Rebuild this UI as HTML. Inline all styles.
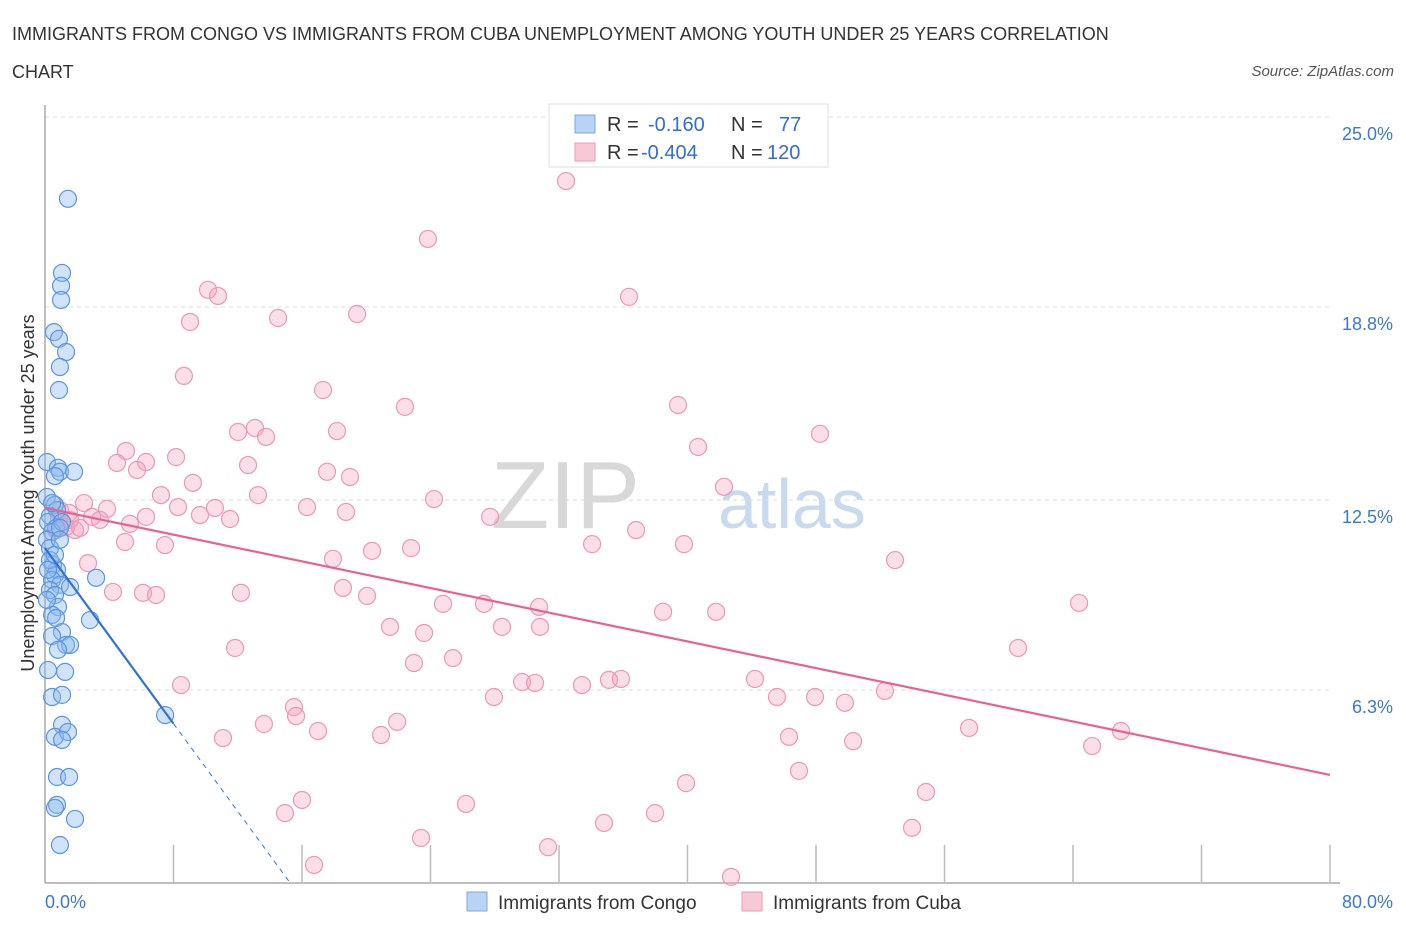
<!DOCTYPE html>
<html><head><meta charset="utf-8">
<style>
body{margin:0;background:#fff;font-family:"Liberation Sans",sans-serif;}
svg text{font-family:"Liberation Sans",sans-serif;}
</style></head>
<body>
<svg id="chart" width="1406" height="930" xmlns="http://www.w3.org/2000/svg">
<text x="12" y="40" font-size="18" fill="#333">IMMIGRANTS FROM CONGO VS IMMIGRANTS FROM CUBA UNEMPLOYMENT AMONG YOUTH UNDER 25 YEARS CORRELATION</text>
<text x="12" y="78" font-size="18" fill="#333">CHART</text>
<text x="1394" y="76" font-size="15" fill="#555" font-style="italic" text-anchor="end">Source: ZipAtlas.com</text>
<text x="640" y="528" font-size="96" fill="#d8d8d8" font-family="Liberation Serif" text-anchor="end">ZIP</text>
<text x="718" y="528" font-size="70" fill="#c8daf0">atlas</text>
<g id="grid"></g>
<g id="axes"></g>
<g id="points"></g>
<g id="lines"></g>
<text transform="translate(34,493) rotate(-90)" font-size="18" fill="#333" text-anchor="middle">Unemployment Among Youth under 25 years</text>
<g>
<rect x="549" y="104" width="279" height="63" fill="#fff" stroke="#ddd"/>
<rect x="575" y="115" width="20" height="18" fill="#b8d3f4" stroke="#7aa7e6"/>
<rect x="575" y="143" width="20" height="18" fill="#f8c8d6" stroke="#ec9ab4"/>
<text x="607" y="131" font-size="20" fill="#333">R = <tspan fill="#2f6fd6" x="648">-0.160</tspan><tspan fill="#333" x="731">N = </tspan><tspan fill="#2f6fd6" x="779">77</tspan></text>
<text x="607" y="159" font-size="20" fill="#333">R = <tspan fill="#2f6fd6" x="641">-0.404</tspan><tspan fill="#333" x="731">N = </tspan><tspan fill="#2f6fd6" x="767">120</tspan></text>
</g>
<g>
<rect x="467" y="892" width="20" height="19" fill="#b8d3f4" stroke="#7aa7e6"/>
<text x="498" y="909" font-size="19" fill="#333">Immigrants from Congo</text>
<rect x="742" y="892" width="20" height="19" fill="#f8c8d6" stroke="#ec9ab4"/>
<text x="773" y="909" font-size="19" fill="#333">Immigrants from Cuba</text>
</g>
</svg>
<script>
const yTicks=[25.0,18.8,12.5,6.3];
const yTickLabels=["25.0%","18.8%","12.5%","6.3%"];
const xTicks=[0,8,16,24,32,40,48,56,64,72,80];
const xEndLabels=["0.0%","80.0%"];
const congoX=[1.43,1.06,1.00,1.00,0.56,0.87,1.31,0.93,0.87,0.12,0.81,0.93,0.62,1.81,0.12,0.62,0.75,0.31,0.19,0.69,0.44,1.06,0.93,0.12,0.31,0.50,0.75,0.62,0.44,0.93,3.18,0.31,0.62,1.56,0.81,0.44,0.69,2.80,1.06,0.44,1.31,1.56,0.19,1.25,0.44,1.06,1.06,0.62,1.43,1.06,0.75,1.50,0.75,0.62,1.87,0.93,7.48,0.31,0.19,0.62,0.12,0.81,0.44,0.93];
const congoY=[22.33,19.91,19.49,19.03,17.98,17.76,17.33,16.84,16.09,13.74,13.55,13.42,13.28,13.42,12.60,12.34,12.17,11.98,11.78,11.59,11.46,11.78,11.59,11.20,10.93,10.38,10.22,10.05,9.89,9.73,9.96,9.56,9.40,9.66,9.01,8.75,8.65,8.58,8.19,8.06,7.77,7.77,6.95,6.89,6.07,6.14,5.16,4.77,4.93,4.67,3.46,3.46,2.55,2.45,2.09,1.24,5.48,10.54,10.22,10.71,9.24,7.61,12.40,11.20];
const cubaX=[32.44,23.84,36.36,10.15,10.77,9.03,14.51,19.43,8.65,17.31,22.41,39.41,48.25,12.02,13.07,13.76,18.18,5.04,4.48,6.29,5.73,8.16,12.64,17.56,18.99,40.66,9.21,42.27,7.22,2.43,3.86,13.26,16.31,24.22,6.29,8.28,9.65,10.58,11.52,18.74,27.71,2.93,5.29,0.87,1.56,3.42,0.68,1.87,4.98,7.47,20.36,22.79,34.06,36.80,39.78,52.92,2.68,4.23,6.10,6.91,12.20,17.93,18.55,20.05,24.78,27.33,30.76,38.48,41.78,64.38,21.48,23.60,28.45,30.82,11.83,22.97,25.40,60.58,8.47,27.95,29.70,30.51,33.43,35.11,35.86,44.20,45.57,47.94,49.80,52.29,15.50,15.63,13.63,17.00,21.92,20.92,11.08,46.32,50.31,57.53,65.19,66.99,46.94,39.91,16.00,26.21,54.85,14.94,37.98,34.80,53.98,23.41,31.32,16.75,42.71,0.93,1.31,2.18,1.49];
const cubaY=[22.91,21.02,19.13,19.36,19.16,18.31,18.44,18.57,16.55,16.09,15.54,15.60,14.66,14.72,14.85,14.56,14.75,14.10,13.71,13.74,13.48,13.90,13.64,13.42,13.25,14.23,13.06,12.93,12.66,12.40,12.21,12.66,12.27,12.53,11.95,12.27,12.01,12.24,11.88,12.11,11.95,11.95,11.72,11.91,11.85,11.85,11.52,11.52,11.13,11.03,10.84,10.93,11.06,11.52,11.06,10.54,10.44,9.50,9.47,9.40,9.47,10.58,9.63,9.37,9.11,9.11,9.01,8.85,8.85,9.14,8.36,8.16,8.36,8.36,7.67,7.18,7.34,7.67,6.46,6.07,6.56,6.53,6.46,6.63,6.66,6.66,6.07,6.07,5.88,6.27,5.74,5.45,5.19,4.96,5.26,4.83,4.73,4.77,4.63,5.06,4.47,4.96,3.66,3.26,2.71,2.58,2.97,2.28,2.28,1.96,1.80,1.47,1.17,0.59,0.20,12.17,11.62,11.59,12.08];
const congoTrend=[10.93,-0.716]; // intercept, slope
const cubaTrend=[12.24,-0.1089];
const congoSolidEnd=8, congoDashEnd=15.26;

const NS="http://www.w3.org/2000/svg";
const X0=45,X1=1330,Y0=883,Y1=117;
const xs=v=>X0+(v/80)*(X1-X0);
const ys=v=>Y0-(v/25)*(Y0-Y1);
function mk(tag,attrs,parent){const e=document.createElementNS(NS,tag);for(const k in attrs)e.setAttribute(k,attrs[k]);document.getElementById(parent).appendChild(e);return e;}

yTicks.forEach((t,i)=>{
  const g=mk('line',{x1:X0,x2:1330,y1:ys(t),y2:ys(t),stroke:'#ddd','stroke-dasharray':'4,4'},'grid');
  
  
  const l=mk('text',{x:1393,y:ys(t)+23,'font-size':18,fill:'#3a78d4','text-anchor':'end'},'axes');
  l.textContent=yTickLabels[i];
  
  
});
const ax=mk('line',{x1:X0,x2:X0,y1:105,y2:Y0,stroke:'#aaa','stroke-width':1.5},'axes');


const bx=mk('line',{x1:X0,x2:1340,y1:Y0,y2:Y0,stroke:'#aaa','stroke-width':1.5},'axes');


xTicks.forEach(t=>{
  if(t===0)return;
  const tk=mk('line',{x1:xs(t),x2:xs(t),y1:845,y2:Y0,stroke:'#bbb','stroke-width':1.5},'axes');
  
  
});
const xl0=mk('text',{x:45,y:908,'font-size':18,fill:'#3a78d4'},'axes');
xl0.textContent=xEndLabels[0];


const xl1=mk('text',{x:1393,y:908,'font-size':18,fill:'#3a78d4','text-anchor':'end'},'axes');
xl1.textContent=xEndLabels[1];



cubaX.forEach((x,i)=>{
  const c=mk('circle',{cx:xs(x),cy:ys(cubaY[i]),r:8.5,fill:'rgba(244,160,188,0.35)',stroke:'#eb98b3','stroke-width':1.2},'points');
  
  
});
congoX.forEach((x,i)=>{
  const c=mk('circle',{cx:xs(x),cy:ys(congoY[i]),r:8.5,fill:'rgba(140,185,240,0.4)',stroke:'#5a95e0','stroke-width':1.2},'points');
  
  
});
const tc=mk('line',{x1:xs(0),y1:ys(cubaTrend[0]),x2:xs(80),y2:ys(cubaTrend[0]+cubaTrend[1]*80),stroke:'#e8628f','stroke-width':2.2},'lines');


const tb=mk('line',{x1:xs(0),y1:ys(congoTrend[0]),x2:xs(congoSolidEnd),y2:ys(congoTrend[0]+congoTrend[1]*congoSolidEnd),stroke:'#2f72d8','stroke-width':2.2},'lines');


const td=mk('line',{x1:xs(congoSolidEnd),y1:ys(congoTrend[0]+congoTrend[1]*congoSolidEnd),x2:xs(congoDashEnd),y2:ys(congoTrend[0]+congoTrend[1]*congoDashEnd),stroke:'#2f72d8','stroke-width':1,'stroke-dasharray':'5,5'},'lines');


</script>
</body></html>
